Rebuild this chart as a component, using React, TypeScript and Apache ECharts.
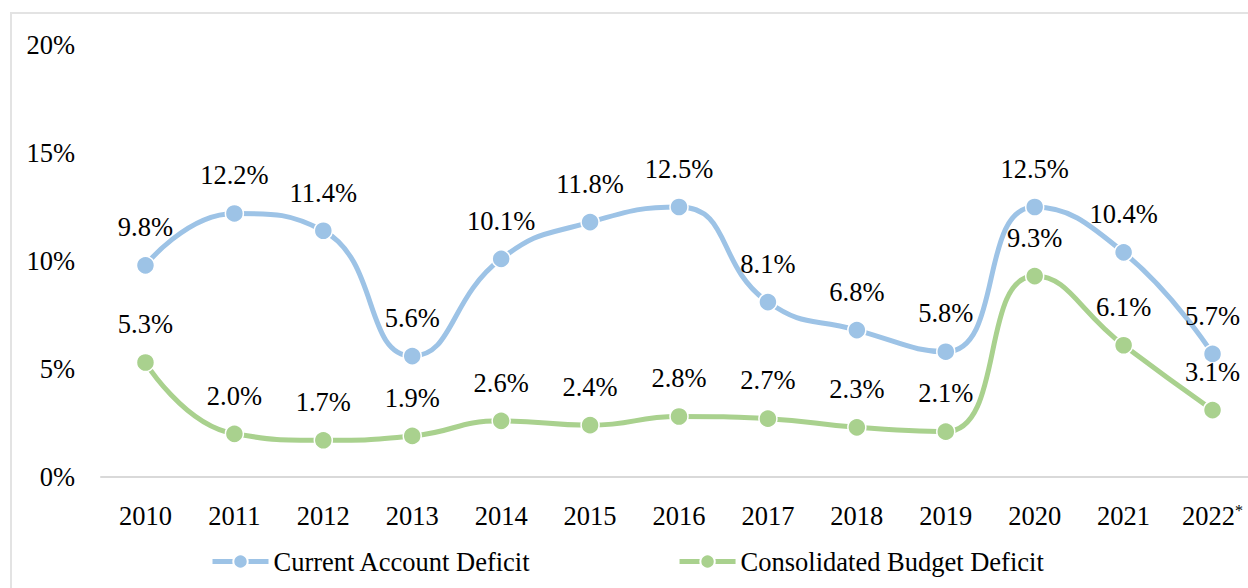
import React, { useEffect, useRef } from "react";
import * as echarts from "echarts";

const years = ["2010", "2011", "2012", "2013", "2014", "2015", "2016", "2017", "2018", "2019", "2020", "2021", "2022*"];
const currentAccountDeficit = [9.8, 12.2, 11.4, 5.6, 10.1, 11.8, 12.5, 8.1, 6.8, 5.8, 12.5, 10.4, 5.7];
const budgetDeficit = [5.3, 2.0, 1.7, 1.9, 2.6, 2.4, 2.8, 2.7, 2.3, 2.1, 9.3, 6.1, 3.1];
const seriesNames = ["Current Account Deficit", "Consolidated Budget Deficit"];
const colors = ["#9DC3E6", "#A9D18E"];

const FONT = "'Liberation Serif', 'Times New Roman', serif";
const FS = 26.5;

export default function App() {
  const ref = useRef<HTMLDivElement>(null);
  useEffect(() => {
    if (!ref.current) return;
    const chart = echarts.init(ref.current, null, { renderer: "svg" });
    const mkSeries = (name: string, data: number[], color: string) => ({
      name,
      type: "line",
      data,
      smooth: 0.5,
      symbol: "circle",
      symbolSize: 18,
      lineStyle: { color, width: 5 },
      itemStyle: { color, borderColor: "#ffffff", borderWidth: 1.5 },
      label: {
        show: true,
        position: "top",
        distance: 15,
        formatter: (p: any) => p.value.toFixed(1) + "%",
        fontFamily: FONT,
        fontSize: FS,
        color: "#000",
      },
    });
    chart.setOption({
      animation: false,
      backgroundColor: "#fff",
      textStyle: { fontFamily: FONT },
      graphic: [
        {
          type: "rect",
          shape: { x: 11, y: 13, width: 1400, height: 800 },
          style: { fill: "none", stroke: "#e3e3e3", lineWidth: 2 },
          silent: true,
        },
      ],
      grid: { left: 101, right: 5, top: 45, bottom: 111 },
      legend: {
        left: 205,
        top: 543,
        itemWidth: 56,
        itemHeight: 18,
        itemGap: 146,
        lineStyle: { width: 5 },
        textStyle: { fontFamily: FONT, fontSize: FS, color: "#000" },
        data: seriesNames,
      },
      xAxis: {
        type: "category",
        data: years,
        boundaryGap: true,
        axisLine: { lineStyle: { color: "#d9d9d9", width: 2 } },
        axisTick: { show: false },
        axisLabel: {
          interval: 0,
          fontFamily: FONT,
          fontSize: FS,
          color: "#000",
          margin: 25,
          formatter: (v: string) => (v.endsWith("*") ? v.slice(0, -1) + "{sup|*}" : v),
          rich: {
            sup: { fontFamily: FONT, fontSize: 16, color: "#000", padding: [0, 0, 12, 0] },
          },
        },
      },
      yAxis: {
        type: "value",
        min: 0,
        max: 20,
        interval: 5,
        axisLine: { show: false },
        axisTick: { show: false },
        splitLine: { show: false },
        axisLabel: { fontFamily: FONT, fontSize: FS, color: "#000", margin: 26, formatter: "{value}%" },
      },
      series: [
        mkSeries(seriesNames[0], currentAccountDeficit, colors[0]),
        mkSeries(seriesNames[1], budgetDeficit, colors[1]),
      ],
    });
    return () => chart.dispose();
  }, []);
  return (
    <div style={{ position: "absolute", left: 0, top: 0, width: 1248, height: 588, overflow: "hidden" }}>
      <div ref={ref} style={{ width: 1262, height: 588 }} />
    </div>
  );
}
